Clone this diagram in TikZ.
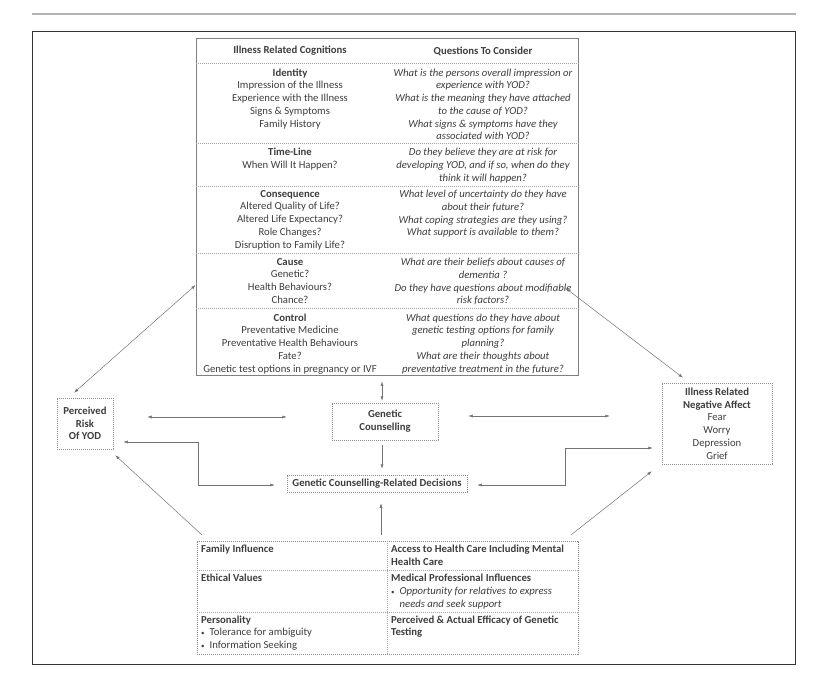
\documentclass[tikz,border=0pt]{standalone}
\usepackage{fontspec}
\setmainfont{Carlito}
\usetikzlibrary{arrows.meta,positioning}

\begin{document}
\begin{tikzpicture}[
    x=1pt, y=-1pt,
    >={Latex[length=4.5pt,width=3pt]},
    txt/.style={
      font=\fontsize{10.7}{12.75}\selectfont, text=black!76,
      inner sep=0pt, align=center
    },
    hd/.style={font=\fontsize{10.7}{12.75}\selectfont\bfseries},
    dbox/.style={
      rectangle, txt, draw=black!45, line width=0.5pt,
      dash pattern=on 1.2pt off 0.8pt
    },
    rowline/.style={draw=black!35, line width=0.5pt,
      dash pattern=on 1.2pt off 0.8pt},
    lcell/.style={txt, anchor=north},
    qcell/.style={txt, anchor=north,
      font=\fontsize{10.7}{12.75}\selectfont\itshape},
    fcell/.style={txt, anchor=north west, align=left},
    arr/.style={->, draw=black!55, line width=0.5pt},
    dbl/.style={<->, draw=black!55, line width=0.5pt}
  ]
  \useasboundingbox (0,0) rectangle (828,695);
  \draw[line width=2pt, black!30] (32,14) -- (796,14);
  \draw[line width=1pt, black!80] (32,32) rectangle (795,664);

  \node[draw=black!50, line width=0.7pt, inner sep=0pt,
        minimum width=382pt, minimum height=337pt] (cog) at (387,206.5) {};
  \foreach \ry in {63,143,186,253,308}
    \draw[rowline] (cog.west |- 0,\ry) -- (cog.east |- 0,\ry);

  \node[txt, hd] (hcog) at (290,51) {Illness Related Cognitions};
  \node[txt, hd] (hques) at (483,51) {Questions To Consider};

  \node[lcell] (idl) at (290,68.5)
    {\textbf{Identity}\\Impression of the Illness\\Experience with the Illness\\
     Signs \& Symptoms\\Family History};
  \node[qcell] (idq) at (483,68.5)
    {What is the persons overall impression or\\experience with YOD?\\
     What is the meaning they have attached\\to the cause of YOD?\\
     What signs \& symptoms have they\\associated with YOD?};
  \node[lcell] (tll) at (290,148)
    {\textbf{Time-Line}\\When Will It Happen?};
  \node[qcell] (tlq) at (483,148)
    {Do they believe they are at risk for\\
     developing YOD, and if so, when do they\\think it will happen?};
  \node[lcell] (cql) at (290,190)
    {\textbf{Consequence}\\Altered Quality of Life?\\Altered Life Expectancy?\\
     Role Changes?\\Disruption to Family Life?};
  \node[qcell] (cqq) at (483,190)
    {What level of uncertainty do they have\\about their future?\\
     What coping strategies are they using?\\What support is available to them?};
  \node[lcell] (cal) at (290,258)
    {\textbf{Cause}\\Genetic?\\Health Behaviours?\\Chance?};
  \node[qcell] (caq) at (483,258)
    {What are their beliefs about causes of\\dementia ?\\
     Do they have questions about modifiable\\risk factors?};
  \node[lcell] (col) at (290,313.5)
    {\textbf{Control}\\Preventative Medicine\\Preventative Health Behaviours\\
     Fate?\\Genetic test options in pregnancy or IVF};
  \node[qcell] (coq) at (483,313.5)
    {What questions do they have about\\genetic testing options for family\\
     planning?\\What are their thoughts about\\
     preventative treatment in the future?};

  \node[dbox, hd, minimum width=56pt, minimum height=51pt] (risk)
    at (85,423.5) {Perceived\\Risk\\Of YOD};
  \node[dbox, hd, minimum width=106pt, minimum height=37pt] (gc)
    at (385,421.5) {Genetic\\Counselling};
  \node[dbox, hd, minimum width=180pt, minimum height=17pt] (dec)
    at (377,483.5) {Genetic Counselling-Related Decisions};
  \node[dbox, minimum width=110pt, minimum height=81pt] (neg) at (717,423.5)
    {\textbf{Illness Related}\\\textbf{Negative Affect}\\Fear\\Worry\\
     Depression\\Grief};

  \node[dbox, minimum width=381pt, minimum height=113pt] (fac)
    at (387.5,597.5) {};
  \draw[rowline] (fac.north) -- (fac.south);
  \foreach \ry in {570,612}
    \draw[rowline] (fac.west |- 0,\ry) -- (fac.east |- 0,\ry);

  \node[fcell, hd] (fam) at (201,545) {Family Influence};
  \node[fcell, hd] (acc) at (391,545)
    {Access to Health Care Including Mental\\Health Care};
  \node[fcell, hd] (eth) at (201,574) {Ethical Values};
  \node[fcell] (med) at (391,574)
    {\textbf{Medical Professional Influences}\\
     {\scriptsize\textbullet}\hspace{5pt}\textit{Opportunity for relatives to express}\\
     \phantom{\scriptsize\textbullet}\hspace{5pt}\textit{needs and seek support}};
  \node[fcell] (pers) at (201,615.5)
    {\textbf{Personality}\\{\scriptsize\textbullet}\hspace{5pt}Tolerance for ambiguity\\
     {\scriptsize\textbullet}\hspace{5pt}Information Seeking};
  \node[fcell, hd] (eff) at (391,615.5)
    {Perceived \& Actual Efficacy of Genetic\\Testing};

  \draw[dbl] ([yshift=-78.5pt]cog.west) -- ([xshift=-11pt,yshift=5pt]risk.north);
  \draw[dbl] ([xshift=-13pt,yshift=-81.5pt]cog.east)
    -- ([xshift=-34pt,yshift=5pt]neg.north);
  \draw[dbl] ([xshift=34pt,yshift=6.5pt]risk.east)
    -- ([xshift=-45pt,yshift=4.5pt]gc.west);
  \draw[dbl] ([xshift=30pt,yshift=5.5pt]gc.east)
    -- ([xshift=-52pt,yshift=7.5pt]neg.west);
  \draw[dbl] ([xshift=-5pt,yshift=-6pt]cog.south)
    -- ([xshift=-3pt,yshift=2pt]gc.north);
  \draw[arr] ([xshift=-3pt,yshift=-5pt]gc.south)
    -- ([xshift=5pt,yshift=6pt]dec.north);
  \draw[dbl] ([xshift=10pt,yshift=-18.5pt]risk.east) -- ++(75,0)
    |- ([xshift=-12pt,yshift=-1.5pt]dec.west);
  \draw[dbl] ([xshift=10pt,yshift=-1.5pt]dec.east) -- ++(88,0)
    |- ([xshift=-9pt,yshift=-24.5pt]neg.west);
  \draw[arr] ([xshift=5pt,yshift=6pt]fac.north west)
    -- ([xshift=2pt,yshift=-6pt]risk.south east);
  \draw[arr] ([xshift=-6.5pt,yshift=6pt]fac.north)
    -- ([xshift=4pt,yshift=-11pt]dec.south);
  \draw[arr] ([xshift=-7pt,yshift=6pt]fac.north east)
    -- ([xshift=-10pt,yshift=-7pt]neg.south west);
\end{tikzpicture}
\end{document}
